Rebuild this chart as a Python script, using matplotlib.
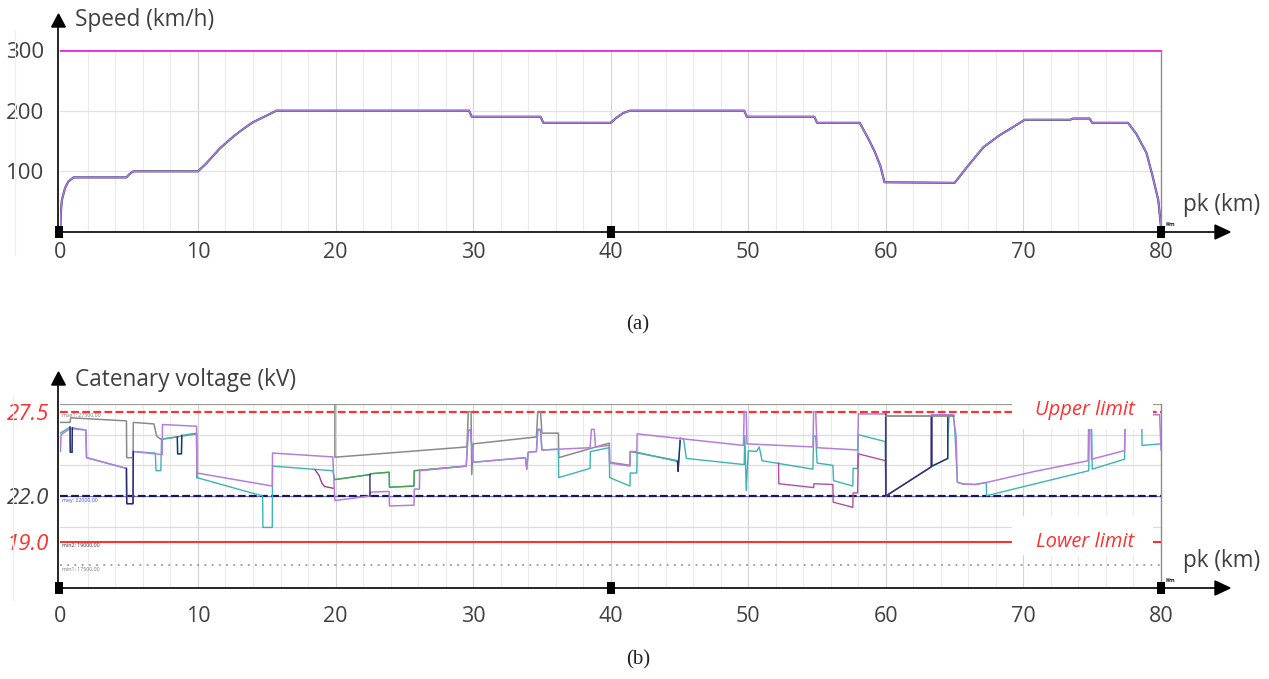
import matplotlib
matplotlib.use("Agg")
import matplotlib.pyplot as plt
import numpy as np
from matplotlib.patches import Rectangle, Polygon
from matplotlib.lines import Line2D

plt.rcParams['font.family'] = ['Open Sans', 'DejaVu Sans']

# ------------------------------------------------------------------ data
pk_ticks = [0, 10, 20, 30, 40, 50, 60, 70, 80]
pk_tick_labels = ["0", "10", "20", "30", "40", "50", "60", "70", "80"]
pk_markers = [0, 40, 80]

speed_ticks = [100, 200, 300]
speed_tick_labels = ["100", "200", "300"]
speed_limit = 300

speed_pk = [0, 0.03, 0.1, 0.33, 0.57, 0.95, 4.8, 5.0, 5.3, 10.0, 10.6, 11.6, 12.6,
            13.3, 14.0, 15.0, 15.7, 29.7, 29.9, 34.9, 35.1, 40.0, 40.4, 40.9,
            41.4, 49.7, 49.9, 54.8, 55.0, 58.1, 58.7, 59.2, 59.6, 59.9, 65.0,
            65.9, 67.1, 68.3, 69.25, 70.1, 73.4, 73.6, 74.8, 75.0, 77.6, 78.2,
            78.95, 79.4, 79.8, 80.0]
speed_kmh = [5, 30, 52, 72, 83, 90, 90, 95, 100, 100, 113, 138, 158,
             170, 181, 192, 200, 200, 190, 190, 180, 180, 188, 196,
             200, 200, 190, 190, 180, 180, 155, 132, 109, 82, 81,
             107, 140, 160, 173, 185, 185, 187, 187, 180, 180, 162,
             130, 91, 53, 8]

volt_ticks = [27.5, 22.0, 19.0]
volt_tick_labels = ["27.5", "22.0", "19.0"]
upper_limit = 27.5
mean_voltage = 22.0
lower_limit = 19.0
min1_voltage = 17.5
max_frame_voltage = 28.0

# grey train
gray1_pk = [0, 0.7, 0.75, 4.8, 4.82, 5.28, 5.3, 6.8, 7.0, 7.3, 9.9, 9.92]
gray1_kv = [26.8, 26.8, 27.1, 26.9, 24.5, 24.5, 26.8, 26.7, 25.9, 25.7, 26.05, 23.2]
gray2_pk = [19.95, 19.95, 29.55, 29.65, 29.85, 29.9, 30.0, 34.6, 34.7, 34.9, 35.0,
            36.2, 36.22, 39.9, 39.92, 41.4, 41.42, 44.9]
gray2_kv = [28.0, 24.53, 25.2, 27.5, 27.5, 23.4, 25.4, 25.85, 27.5, 27.5, 26.1,
            26.1, 24.5, 25.45, 24.2, 24.0, 24.9, 24.3]
gray3_pk = [60.0, 64.95]
gray3_kv = [27.2, 27.2]

# teal train
teal_pk = [0, 0.7, 0.72, 0.85, 0.87, 1.85, 1.9, 4.8, 4.82, 5.28, 5.3, 6.9, 6.95, 7.3,
           7.35, 8.5, 8.52, 8.8, 8.82, 9.9, 9.92, 14.7, 14.72, 15.4, 15.42, 19.8,
           19.95, 22.5, 22.52, 23.9, 23.92, 25.7, 25.72, 29.5, 29.65, 29.8, 30.0,
           33.8, 33.9, 34.0, 34.6, 34.7, 34.9, 35.0, 36.2, 36.22, 38.5, 38.52, 39.9,
           39.92, 41.4, 41.42, 41.9, 41.92, 44.85, 44.9, 45.05, 45.3, 45.5, 49.7,
           49.75, 49.85, 50.0, 50.6, 50.8, 51.0, 54.7, 54.75, 54.9, 55.0, 56.15,
           56.2, 57.6, 57.62, 57.95, 58.0, 59.95, 60.0, 63.3, 64.5, 64.52, 64.6,
           64.9, 65.0, 65.2, 65.6, 66.5, 67.3, 67.32, 74.75, 74.8, 74.95, 75.0,
           77.35, 77.4, 78.6, 78.62, 80.0]
teal_kv = [26.1, 26.5, 24.85, 24.85, 26.45, 26.3, 24.5, 23.8, 21.5, 21.5, 24.9, 24.8,
           23.65, 23.65, 25.7, 25.85, 24.75, 24.75, 25.95, 26.1, 23.2, 22.0, 19.95,
           19.95, 23.95, 23.65, 23.07, 23.4, 23.45, 23.55, 22.57, 22.65, 23.65,
           23.95, 26.3, 26.3, 24.2, 24.5, 23.75, 24.85, 24.9, 26.3, 26.3, 25.0,
           25.05, 23.2, 23.8, 24.9, 25.15, 23.2, 22.65, 23.5, 23.5, 24.85, 24.25,
           23.8, 25.8, 25.7, 24.45, 24.05, 25.95, 22.35, 24.95, 24.9, 25.2, 24.3,
           23.75, 25.9, 25.9, 24.15, 24.0, 23.0, 22.65, 23.8, 23.8, 26.0, 25.55,
           22.0, 23.9, 24.45, 26.0, 27.3, 27.3, 26.5, 22.9, 22.78, 22.75, 22.88,
           22.02, 23.65, 27.3, 27.3, 23.75, 24.4, 27.3, 27.3, 25.3, 25.4]

# purple train
purple_pk = [0, 0.05, 0.7, 1.85, 1.9, 4.8, 4.82, 5.28, 5.3, 7.4, 7.42, 9.9, 9.92,
             15.4, 15.42, 19.8, 19.95, 22.5, 22.52, 23.9, 23.92, 25.7, 25.72, 26.1,
             26.12, 29.5, 29.65, 29.8, 30.0, 33.8, 33.9, 34.0, 34.6, 34.7, 34.9,
             35.0, 38.5, 38.6, 38.8, 38.9, 39.9, 39.92, 41.4, 41.42, 41.9, 41.92,
             49.65, 49.7, 49.85, 49.9, 54.7, 54.75, 54.9, 55.0, 57.95, 58.0, 59.98,
             60.0, 63.3, 63.32, 64.9, 65.0, 65.1, 65.2, 65.6, 66.5, 67.3, 70.8,
             74.7, 74.75, 74.9, 74.95, 77.35, 77.4, 79.9, 80.0]
purple_kv = [24.9, 26.0, 26.4, 26.3, 24.5, 23.8, 21.5, 21.5, 24.9, 24.7, 26.66,
             26.55, 23.5, 22.65, 24.8, 24.55, 21.7, 22.0, 22.25, 22.3, 21.35, 21.4,
             22.45, 22.45, 23.65, 23.95, 26.3, 26.3, 24.2, 24.5, 23.75, 24.85, 24.9,
             26.35, 26.35, 25.0, 25.15, 26.35, 26.35, 25.2, 25.3, 24.15, 23.95, 24.9,
             24.9, 26.05, 25.3, 27.5, 27.5, 25.4, 25.2, 27.5, 27.5, 25.15, 25.0,
             27.35, 27.35, 22.0, 23.9, 27.3, 27.3, 26.5, 26.0, 22.9, 22.78, 22.75,
             22.88, 23.6, 24.3, 27.3, 27.3, 24.4, 24.96, 27.3, 27.3, 25.0]

# green train (20-30 km)
green_pk = [19.95, 22.5, 22.52, 23.9, 23.92, 25.7, 25.72, 29.5]
green_kv = [23.07, 23.4, 23.45, 23.55, 22.57, 22.65, 23.65, 23.95]

# dark magenta train
magenta1_pk = [18.5, 18.8, 19.0, 19.2, 19.85]
magenta1_kv = [23.72, 23.35, 22.85, 22.62, 22.5]
magenta2_pk = [52.2, 52.22, 54.75, 54.77, 56.15, 56.17, 57.6, 57.62, 57.95, 58.0,
               59.98, 60.0]
magenta2_kv = [24.15, 22.8, 22.55, 22.8, 22.75, 21.6, 21.26, 22.2, 22.2, 24.75,
               24.3, 22.0]

# navy train (visible parts)
navy_pk = [0.7, 0.72, 0.85, 0.87, np.nan, 4.8, 4.82, 5.28, 5.3, np.nan, 8.5, 8.52,
           8.8, 8.82, np.nan, 22.5, 22.5, np.nan, 44.85, 44.9, 45.05, np.nan,
           60.0, 60.0, 63.3, 63.3, 63.35, 63.35, 64.5, 64.5]
navy_kv = [26.5, 24.85, 24.85, 26.45, np.nan, 23.8, 21.5, 21.5, 24.9, np.nan, 25.85,
           24.75, 24.75, 25.95, np.nan, 22.0, 23.4, np.nan, 24.25, 23.6, 25.6, np.nan,
           27.35, 22.0, 23.9, 27.2, 27.2, 23.95, 24.45, 27.2]

# ------------------------------------------------------------------ layout
W, H = 1269, 679
fig = plt.figure(figsize=(W / 100, H / 100), dpi=100)
X0, X1 = 60.4, 1161.0
TXT = '#404040'
RED = '#ff3030'


def fbox(l, t, r, b):
    return [l / W, 1 - b / H, (r - l) / W, (b - t) / H]


def P(x, y):
    return (x / W, 1 - y / H)


def km2px(k):
    return X0 + k * (X1 - X0) / 80.0


axA = fig.add_axes(fbox(X0, 50, X1, 232))
axB = fig.add_axes(fbox(X0, 404, X1, 588))

for ax in (axA, axB):
    ax.set_xlim(0, 80)
    for s in ('left', 'top', 'bottom'):
        ax.spines[s].set_visible(False)
    ax.spines['right'].set_color('#8c8c8c')
    ax.spines['right'].set_linewidth(1.0)
    for k in np.arange(2, 80, 2):
        ax.axvline(k, color='#d4d4d4' if k % 10 == 0 else '#ebebeb', lw=0.8, zorder=0)
    ax.set_xticks(pk_ticks)
    ax.set_xticklabels(pk_tick_labels, fontsize=15.5, color=TXT)

axA.tick_params(axis='x', length=0, pad=7)
axB.tick_params(axis='x', length=0, pad=13)

# ---------------- top panel: speed
axA.set_ylim(0, 300)
for v in (100, 200):
    axA.axhline(v, color='#e2e2e2', lw=0.9, zorder=0)
axA.axhline(speed_limit, color='#e030e0', lw=2.0, zorder=3)
axA.plot(speed_pk, speed_kmh, color='#2a2a6a', lw=1.5, zorder=3, solid_joinstyle='round')
axA.plot(speed_pk, speed_kmh, color='#a77bd6', lw=1.1, zorder=4, solid_joinstyle='round')
axA.set_yticks(speed_ticks)
axA.set_yticklabels(speed_tick_labels, fontsize=16, color=TXT)
axA.tick_params(axis='y', length=0, pad=12)

# ---------------- bottom panel: voltage
axB.set_ylim(16, 28)
for v in (20, 24, 26):
    axB.axhline(v, color='#dcdcdc', lw=0.9, zorder=0)
axB.axhline(max_frame_voltage, color='#9a9a9a', lw=1.6, zorder=2)
axB.axhline(upper_limit, color=RED, lw=1.6, dashes=(3.5, 1.5), zorder=2)
axB.axhline(mean_voltage, color='#6a6aff', lw=0.8, zorder=2)
axB.axhline(mean_voltage, color='#1a1a4a', lw=1.6, dashes=(3.5, 1.5), zorder=2)
axB.axhline(lower_limit, color=RED, lw=1.5, zorder=2)
axB.axhline(min1_voltage, color='#9a9a9a', lw=1.3, dashes=(1, 3), zorder=2)

axB.plot(gray1_pk, gray1_kv, color='#8a8a8a', lw=1.1, zorder=3)
axB.plot(gray2_pk, gray2_kv, color='#8a8a8a', lw=1.1, zorder=3)
axB.plot(teal_pk, teal_kv, color='#3cb4b4', lw=1.0, zorder=3)
axB.plot(green_pk, green_kv, color='#4fa04f', lw=1.0, zorder=3)
axB.plot(magenta1_pk, magenta1_kv, color='#9a3e8e', lw=1.0, zorder=3)
axB.plot(magenta2_pk, magenta2_kv, color='#b050a4', lw=1.0, zorder=3)
axB.plot(purple_pk, purple_kv, color='#b47fdc', lw=1.1, zorder=3)
axB.plot(navy_pk, navy_kv, color='#2b2b72', lw=1.0, zorder=3)
axB.plot(gray3_pk, gray3_kv, color='#8a8a8a', lw=1.3, zorder=3)

axB.set_yticks(volt_ticks)
axB.set_yticklabels(volt_tick_labels, fontsize=16, fontstyle='italic')
for lab, c in zip(axB.get_yticklabels(), [RED, TXT, RED]):
    lab.set_color(c)
axB.tick_params(axis='y', length=0, pad=8)

# tiny marker labels of the original software
axB.text(0.15, 27.28, "max1: 27500,00", fontsize=3.8, color='#777777', va='center', zorder=4)
axB.text(0.15, 21.72, "moy: 22000,00", fontsize=3.8, color='#4444ff', va='center', zorder=4)
axB.text(0.15, 18.78, "min2: 19000,00", fontsize=3.8, color='#333333', va='center', zorder=4)
axB.text(0.15, 17.24, "min1: 17500,00", fontsize=3.8, color='#777777', va='center', zorder=4)

# white boxes + limit labels
axB.add_patch(Rectangle((69.2, 26.4), 10.2, 2.5, facecolor='white', edgecolor='none',
                        zorder=5, clip_on=False))
axB.add_patch(Rectangle((69.2, 18.15), 10.2, 2.55, facecolor='white', edgecolor='none',
                        zorder=5, clip_on=False))
axB.text(74.45, 27.62, "Upper limit", fontsize=14.5, fontstyle='italic', color=RED,
         ha='center', va='center', zorder=6, clip_on=False)
axB.text(74.45, 19.0, "Lower limit", fontsize=14.5, fontstyle='italic', color=RED,
         ha='center', va='center', zorder=6, clip_on=False)


# ---------------- axes arrows, squares, titles (figure pixels)
def draw_axes_decor(y_axis, y_top, title, title_y):
    fig.add_artist(Line2D([P(58.5, 0)[0]] * 2, [P(0, y_axis)[1], P(0, y_top + 12)[1]],
                          transform=fig.transFigure, color='black', lw=1.2))
    fig.add_artist(Polygon([P(51.7, y_top + 13), P(65.3, y_top + 13), P(58.5, y_top)],
                           closed=True, transform=fig.transFigure, color='black'))
    fig.add_artist(Line2D([P(58, 0)[0], P(1216, 0)[0]], [P(0, y_axis)[1]] * 2,
                          transform=fig.transFigure, color='black', lw=1.2))
    fig.add_artist(Polygon([P(1215, y_axis - 7), P(1215, y_axis + 7), P(1230, y_axis)],
                           closed=True, transform=fig.transFigure, color='black'))
    for k in pk_markers:
        x = km2px(k) if k else 58.5
        x0, y0 = P(x - 4, y_axis + 6)
        fig.add_artist(Rectangle((x0, y0), 8 / W, 12 / H, transform=fig.transFigure,
                                 facecolor='black', edgecolor='none'))
    fig.text(*P(1166, y_axis - 7), "Km", fontsize=4.2, fontweight='bold', color='#222222',
             va='center', ha='left')
    fig.text(*P(75, title_y), title, fontsize=16.3, color=TXT, va='center', ha='left')
    fig.text(*P(1260, y_axis - 27), "pk (km)", fontsize=16.3, color=TXT,
             va='center', ha='right')


draw_axes_decor(232, 14, "Speed (km/h)", 20)
draw_axes_decor(588, 372, "Catenary voltage (kV)", 380)

fig.text(*P(638, 325), "(a)", fontsize=15, color='#222222', ha='center', va='center',
         family=['Liberation Serif', 'DejaVu Serif'])
fig.text(*P(638, 660), "(b)", fontsize=15, color='#222222', ha='center', va='center',
         family=['Liberation Serif', 'DejaVu Serif'])

# faint frame remnants of the source screenshot
fig.add_artist(Line2D([P(15, 0)[0]] * 2, [P(0, 30)[1], P(0, 255)[1]],
                      transform=fig.transFigure, color='#efefef', lw=0.8))
fig.add_artist(Line2D([P(13, 0)[0]] * 2, [P(0, 395)[1], P(0, 600)[1]],
                      transform=fig.transFigure, color='#efefef', lw=0.8))

fig.savefig("out.png", dpi=100, facecolor='white')
